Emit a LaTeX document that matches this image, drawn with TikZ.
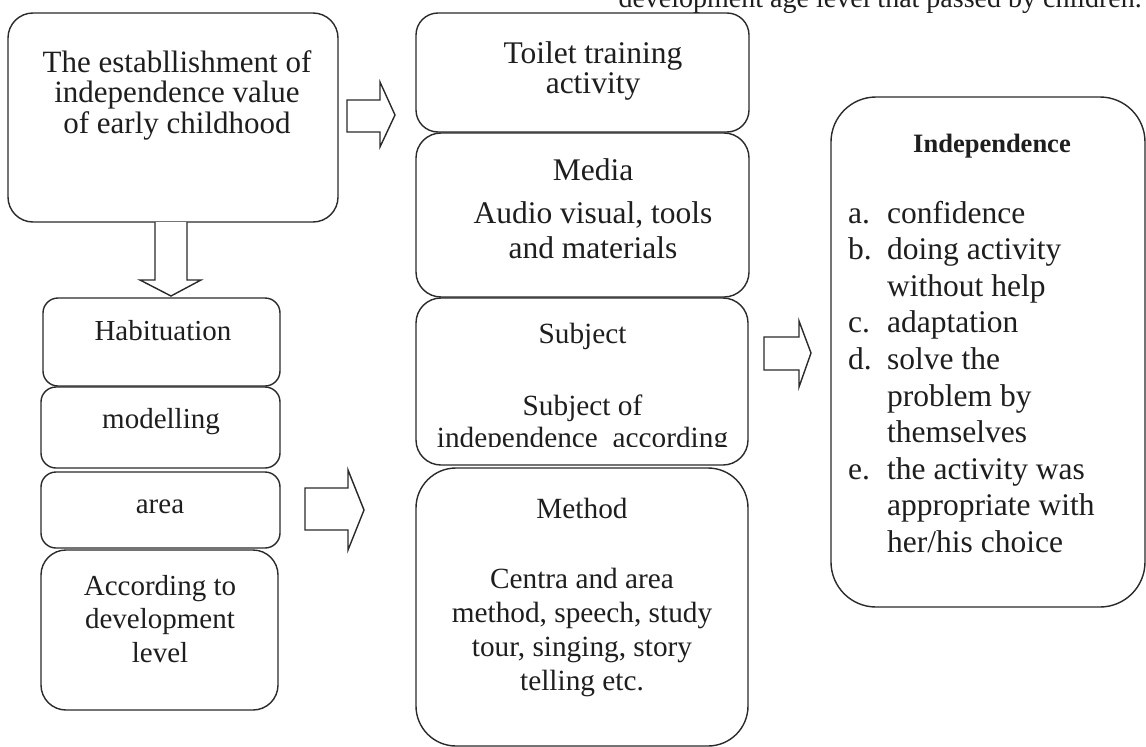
\documentclass[tikz,border=0pt]{standalone}
\usepackage{fontspec}
\setmainfont{Liberation Serif}
\definecolor{linec}{HTML}{2A2A2A}
\definecolor{textc}{HTML}{1E1E1E}
\newcommand\fs[2]{\fontsize{#1}{#2}\selectfont}
\newcommand\lns[1]{\begin{tabular}[t]{@{}c@{}}#1\end{tabular}}
\begin{document}
\begin{tikzpicture}[x=1pt,y=-1pt,
  box/.style={draw=linec, line width=1.4pt, rounded corners=#1, inner sep=0pt, fill=none},
  barrow/.style={draw=linec, line width=1.4pt, fill=white, line join=miter},
  txt/.style={text=textc, inner sep=0pt, anchor=base}]
\useasboundingbox (0,0) rectangle (1146,747);
\clip (0,0) rectangle (1146,747);
\fill[white] (0,0) rectangle (1146,747);

% top clipped caption line
\node[txt, anchor=base east, font=\fs{28}{32}] (cap) at (1142,7) {development age level that passed by children.};

% boxes
\node[box=25pt, minimum width=330pt, minimum height=209pt] (est) at (173,117.5) {};
\node[box=22pt, minimum width=333pt, minimum height=119pt] (toilet) at (582.5,72.5) {};
\node[box=25pt, minimum width=333pt, minimum height=164pt] (media) at (582.5,215) {};
\node[box=25pt, minimum width=332pt, minimum height=167pt] (subject) at (582,381.5) {};
\node[box=40pt, minimum width=332pt, minimum height=278pt] (method) at (582,607) {};
\node[box=15pt, minimum width=237pt, minimum height=88pt] (hab) at (161.5,342) {};
\node[box=15pt, minimum width=239pt, minimum height=81pt] (model) at (160.5,427.5) {};
\node[box=15pt, minimum width=239pt, minimum height=76pt] (area) at (160.5,510) {};
\node[box=25pt, minimum width=237pt, minimum height=160pt] (acc) at (159.5,630) {};
\node[box=45pt, minimum width=314pt, minimum height=510pt] (indep) at (988,352) {};

% block arrows
\draw[barrow] (347,100) -- (380,100) -- (380,82) -- (395,115) -- (380,147) -- (380,132) -- (347,132) -- cycle;
\draw[barrow] (155,222) -- (155,280) -- (140,280) -- (171,296) -- (201,280) -- (187,280) -- (187,222);
\draw[barrow] (305,488) -- (348,488) -- (348,470) -- (364,510) -- (348,550) -- (348,530) -- (305,530) -- cycle;
\draw[barrow] (764,337) -- (799,337) -- (799,321) -- (811,353) -- (799,387) -- (799,370) -- (764,370) -- cycle;

% texts
\node[txt, font=\fs{31}{30.5}] (testa) at (177,72) {\lns{The establlishment of\\ independence value\\ of early childhood}};
\node[txt, font=\fs{31.5}{30}] (ttoilet) at (593,63) {\lns{Toilet training\\ activity}};
\node[txt, font=\fs{31.5}{35}] (tmedia) at (593,180) {\lns{Media\\[8pt] Audio visual, tools\\ and materials}};
\begin{scope}
\clip (416,298) rectangle (748,446);
\node[txt, font=\fs{29.3}{32}] (tsubject) at (582.5,343) {\lns{Subject\\[40pt] Subject of\\ independence \ according}};
\end{scope}
\node[txt, font=\fs{29.3}{34}] (tmethod) at (582,518) {\lns{Method\\[36pt] Centra and area\\ method, speech, study\\ tour, singing, story\\ telling etc.}};
\node[txt, font=\fs{29}{33}] (thab) at (163,340) {Habituation};
\node[txt, font=\fs{29}{33}] (tmodel) at (161,428) {modelling};
\node[txt, font=\fs{29}{33}] (tarea) at (160,513) {area};
\node[txt, font=\fs{29}{33.5}] (tacc) at (160,595) {\lns{According to\\ development\\ level}};
\node[txt, font=\bfseries\fs{26.5}{30}] (tindep) at (992,152) {Independence};
\node[txt, anchor=base west, font=\fs{31.5}{36.6}] (tlist) at (848,223) {\begin{tabular}[t]{@{}p{39pt}@{}l@{}}
a. & confidence\\
b. & doing activity\\
   & without help\\
c. & adaptation\\
d. & solve the\\
   & problem by\\
   & themselves\\
e. & the activity was\\
   & appropriate with\\
   & her/his choice
\end{tabular}};
\end{tikzpicture}
\end{document}
